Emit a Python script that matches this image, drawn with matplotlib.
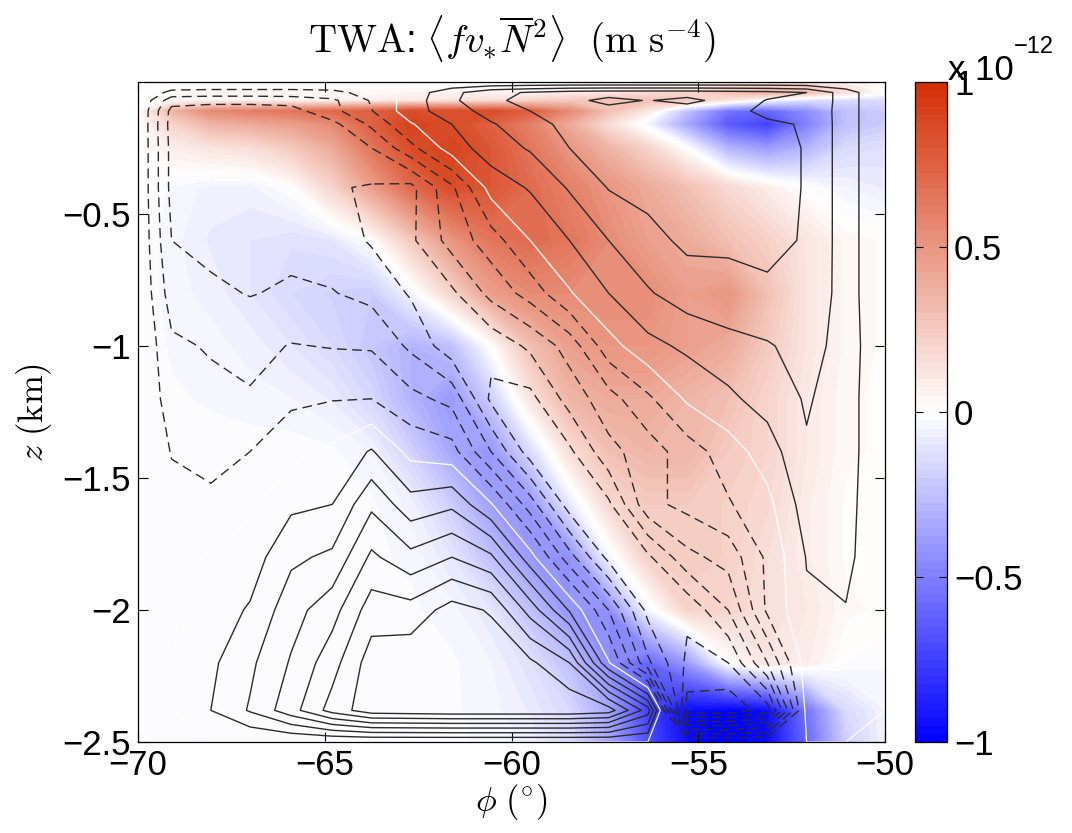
import numpy as np
import matplotlib.pyplot as plt
from matplotlib.colors import LinearSegmentedColormap

plt.rcParams['font.family'] = ['Liberation Sans', 'DejaVu Sans']
plt.rcParams['mathtext.fontset'] = 'cm'

# latitude (deg) and depth (km) of the section grid
lat = np.array([-70, -69.1, -68.05, -67.0, -65.9, -64.8, -63.75, -62.7, -61.6, -60.55,
                -59.5, -58.45, -57.4, -56.35, -55.3, -54.2, -53.15, -52.1, -51.05, -50])
depth = np.array([0, -0.04, -0.07, -0.11, -0.16, -0.25, -0.4, -0.6, -0.8, -1.0,
                  -1.2, -1.4, -1.6, -1.8, -2.0, -2.2, -2.38, -2.5])

# TWA term <f v* N^2>, units of 1e-12 m s^-4 (rows: depth, cols: lat)
twa = np.array([
    [0, 0, 0, 0, 0, 0, 0, 0, 0, 0, 0, 0, 0, 0, 0, 0.05, 0.1, 0.15, 0.1, 0],
    [0, 0.02, 0.03, 0.03, 0.03, 0.03, 0.03, 0.05, 0.05, 0.05, 0.05, 0.08, 0.1, 0.15, 0.2, 0.3, 0.35, 0.3, 0.15, 0.0],
    [0, 0.03, 0.05, 0.05, 0.05, 0.06, 0.08, 0.1, 0.12, 0.15, 0.2, 0.25, 0.3, 0.3, 0.25, 0.1, -0.05, -0.15, -0.15, -0.15],
    [0, 0.35, 0.55, 0.6, 0.65, 0.7, 0.75, 0.85, 0.85, 0.85, 0.75, 0.55, 0.3, 0.1, -0.25, -0.55, -0.6, -0.45, -0.25, -0.2],
    [0, 0.2, 0.35, 0.4, 0.45, 0.55, 0.75, 0.9, 0.85, 0.75, 0.6, 0.4, 0.15, -0.05, -0.35, -0.65, -0.75, -0.5, -0.25, -0.2],
    [0, 0.08, 0.12, 0.15, 0.25, 0.4, 0.65, 0.85, 0.9, 0.8, 0.65, 0.5, 0.35, 0.2, 0.0, -0.3, -0.4, -0.3, -0.15, -0.12],
    [0, -0.03, -0.06, -0.06, 0.0, 0.2, 0.45, 0.7, 0.85, 0.8, 0.7, 0.6, 0.5, 0.4, 0.3, 0.18, 0.08, 0.0, -0.05, -0.08],
    [0, -0.04, -0.08, -0.1, -0.12, -0.1, 0.0, 0.25, 0.5, 0.65, 0.7, 0.65, 0.55, 0.45, 0.4, 0.3, 0.22, 0.12, 0.04, 0.02],
    [0, -0.04, -0.06, -0.1, -0.15, -0.18, -0.2, -0.05, 0.2, 0.45, 0.55, 0.55, 0.55, 0.55, 0.45, 0.5, 0.3, 0.12, 0.04, 0.02],
    [0, -0.03, -0.04, -0.06, -0.1, -0.15, -0.22, -0.3, -0.25, 0.0, 0.3, 0.45, 0.5, 0.5, 0.45, 0.4, 0.25, 0.12, 0.04, 0.02],
    [0, -0.02, -0.03, -0.04, -0.05, -0.08, -0.16, -0.3, -0.4, -0.2, 0.12, 0.35, 0.4, 0.4, 0.35, 0.3, 0.2, 0.1, 0.03, 0.02],
    [0, -0.01, -0.01, -0.01, -0.01, -0.02, -0.05, -0.18, -0.35, -0.42, -0.15, 0.15, 0.3, 0.35, 0.35, 0.25, 0.2, 0.1, 0.03, 0.02],
    [0, -0.01, -0.01, -0.01, -0.01, -0.01, -0.02, -0.06, -0.2, -0.38, -0.42, -0.1, 0.18, 0.25, 0.25, 0.22, 0.18, 0.08, 0.02, 0.02],
    [0, -0.01, -0.01, -0.01, -0.01, -0.01, -0.02, -0.03, -0.1, -0.25, -0.4, -0.45, -0.05, 0.22, 0.25, 0.22, 0.15, 0.08, 0.02, 0.02],
    [0, -0.01, -0.01, -0.01, -0.01, -0.01, -0.02, -0.02, -0.04, -0.1, -0.25, -0.42, -0.45, -0.05, 0.2, 0.2, 0.15, 0.1, 0.03, 0.02],
    [0, -0.01, -0.01, -0.01, -0.01, -0.01, -0.02, -0.02, -0.02, -0.05, -0.12, -0.25, -0.45, -0.6, -0.4, 0.0, 0.12, 0.08, 0.0, -0.02],
    [0, -0.01, -0.01, -0.01, -0.01, -0.01, -0.02, -0.02, -0.02, -0.04, -0.08, -0.15, -0.35, -0.75, -0.95, -1.0, -0.95, -0.55, -0.15, -0.05],
    [0, -0.01, -0.01, -0.01, -0.01, -0.01, -0.02, -0.02, -0.02, -0.03, -0.06, -0.15, -0.35, -0.7, -0.95, -1.0, -0.95, -0.6, -0.2, -0.05],
])

# overturning streamfunction drawn as line contours (arbitrary units)
psi = np.array([
    [0] * 20,
    [0, -1.3, -1.4, -1.4, -1.4, -1.3, -0.6, 0.4, 1.7, 2.7, 3.1, 3.4, 3.5, 3.5, 3.5, 3.4, 3.3, 3.0, 1.5, 0],
    [0, -2.6, -2.7, -2.7, -2.6, -2.2, -0.9, 0.5, 1.8, 2.8, 3.3, 3.7, 4.3, 3.95, 4.3, 3.6, 2.95, 3.0, 1.5, 0],
    [0, -3.3, -3.5, -3.5, -3.4, -2.3, -1.05, 0.6, 1.5, 2.4, 3.0, 3.3, 3.6, 3.6, 3.4, 3.2, 2.85, 2.9, 1.5, 0],
    [0, -3.4, -3.6, -3.6, -3.6, -3.3, -1.8, -0.1, 1.0, 1.9, 2.6, 3.3, 3.5, 3.4, 3.3, 3.2, 3.1, 2.95, 1.5, 0],
    [0, -3.3, -3.6, -3.7, -3.7, -3.6, -3.0, -1.3, 0.5, 1.5, 2.1, 3.0, 3.5, 3.4, 3.3, 3.3, 3.3, 2.95, 1.5, 0],
    [0, -3.3, -3.6, -3.7, -3.8, -3.9, -4.1, -4.3, -2.2, 0.4, 1.1, 2.1, 3.05, 3.3, 3.3, 3.3, 3.3, 2.95, 1.5, 0],
    [0, -3.0, -3.3, -3.5, -3.3, -3.5, -4.1, -4.2, -2.6, -1.5, 0.0, 1.0, 2.0, 2.7, 3.2, 3.1, 3.15, 2.95, 1.5, 0],
    [0, -2.5, -2.8, -3.05, -2.85, -2.95, -3.3, -4.1, -4.2, -2.7, -1.6, -0.1, 1.0, 1.9, 2.5, 2.8, 2.9, 2.9, 1.5, 0],
    [0, -1.8, -2.1, -2.3, -1.95, -2.05, -2.1, -3.2, -4.6, -4.7, -3.8, -2.6, -0.4, 0.7, 1.2, 1.6, 1.9, 2.4, 1.6, 0],
    [0, -1.5, -1.7, -1.9, -1.2, -1.05, -1.0, -1.7, -2.3, -5.2, -5.3, -3.6, -2.4, -1.2, 0.15, 0.8, 1.4, 2.1, 1.5, 0],
    [0, -1.05, -1.3, -1.0, -0.3, 0.2, 1.1, -0.3, -0.6, -3.0, -5.5, -5.2, -3.3, -2.5, -1.5, -0.5, 0.5, 1.9, 1.5, 0],
    [0, -0.7, -0.8, -0.2, 0.8, 1.0, 2.8, 1.4, 1.8, 0.1, -2.5, -5.5, -5.2, -2.3, -1.7, -1.1, -0.3, 1.5, 1.4, 0],
    [0, -0.3, 0.1, 0.5, 1.8, 2.2, 4.2, 3.3, 4.0, 3.2, 0.4, -2.6, -5.3, -5.2, -3.3, -2.6, -0.8, 1.05, 1.3, 0],
    [0, -0.1, 0.5, 1.1, 2.6, 3.6, 5.5, 5.4, 6.4, 5.9, 3.6, 0.9, -2.0, -5.3, -5.8, -4.0, -0.8, 0.85, 0.95, 0],
    [0, -0.05, 0.8, 1.8, 3.1, 4.6, 6.5, 6.7, 6.8, 6.7, 6.2, 5.0, 0.1, -3.8, -6.2, -6.0, -3.0, 0.5, 0.5, 0],
    [0, -0.05, 1.0, 2.1, 3.6, 5.4, 6.6, 6.7, 6.8, 6.8, 6.8, 6.8, 6.5, 3.5, -7.5, -7.8, -6.5, 0.3, 0.3, 0],
    [0] * 20,
])

neg_levels = [-7, -6, -5, -4, -3, -2, -1]
pos_levels = [1, 2, 3, 4, 5, 6]
cbar_ticks = [-1, -0.5, 0, 0.5, 1]
cbar_labels = ['\u22121', '\u22120.5', '0', '0.5', '1']
xticks = [-70, -65, -60, -55, -50]
xlabels = ['\u221270', '\u221265', '\u221260', '\u221255', '\u221250']
yticks = [-2.5, -2, -1.5, -1, -0.5]
ylabels = ['\u22122.5', '\u22122', '\u22121.5', '\u22121', '\u22120.5']

cmap = LinearSegmentedColormap.from_list(
    'blue_white_red', [(0.0, 0.0, 1.0), (1.0, 1.0, 1.0), (0.83, 0.18, 0.02)])

fig = plt.figure(figsize=(10.72, 8.33), dpi=100)
ax = fig.add_axes([0.1287, 0.1092, 0.6969, 0.7924])
cax = fig.add_axes([0.8535, 0.1092, 0.0299, 0.7924])

cf = ax.contourf(lat, depth, twa, levels=np.linspace(-1, 1, 81), cmap=cmap)

line_col = '#2b2b2b'
ax.contour(lat, depth, psi, levels=neg_levels, colors=line_col,
           linewidths=1.0, linestyles=[(0, (7, 4))])
ax.contour(lat, depth, psi, levels=pos_levels, colors=line_col,
           linewidths=1.0, linestyles='solid')
ax.contour(lat, depth, psi, levels=[0], colors='white', linewidths=0.9)

ax.set_xlim(-70, -50)
ax.set_ylim(-2.5, 0)
ax.set_xticks(xticks)
ax.set_xticklabels(xlabels)
ax.set_yticks(yticks)
ax.set_yticklabels(ylabels)
ax.tick_params(direction='in', length=7, width=0.8, top=True, right=True,
               labelsize=25, pad=5)
for s in ax.spines.values():
    s.set_linewidth(0.9)

ax.set_title(r'$\mathrm{TWA}$:' + r' $\langle f v_{*} \overline{N}^{2} \rangle\ \ (\mathrm{m\ s}^{-4})$',
             fontsize=28, pad=22)
ax.set_xlabel(r'$\phi\ (^{\circ})$', fontsize=25, labelpad=0)
ax.set_ylabel(r'$z\ (\mathrm{km})$', fontsize=25, labelpad=6)

cb = fig.colorbar(cf, cax=cax, ticks=cbar_ticks)
cb.ax.set_yticklabels(cbar_labels)
cb.ax.tick_params(direction='in', length=6, width=0.8, left=True, right=True,
                  labelsize=25, pad=5)
cb.outline.set_linewidth(0.9)
fig.text(0.884, 0.904, 'x 10', fontsize=25)
fig.text(0.946, 0.936, '\u221212', fontsize=17)

fig.savefig('out.png', dpi=100)
